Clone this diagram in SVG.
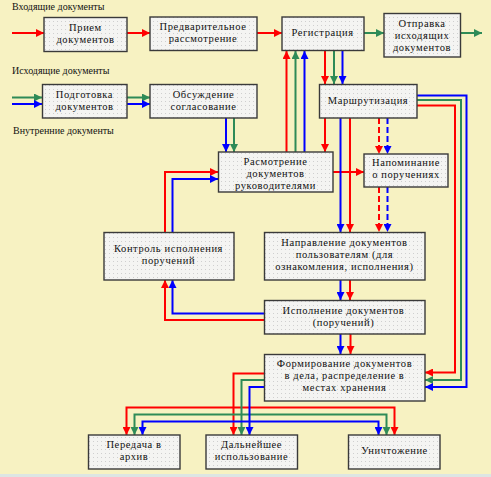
<svg xmlns="http://www.w3.org/2000/svg" width="491" height="477" viewBox="0 0 491 477">
<defs>
<pattern id="dots" width="4" height="4" patternUnits="userSpaceOnUse">
<rect width="4" height="4" fill="#f4f4f2"/>
<rect x="1" y="1" width="1" height="1" fill="#cfcfcf"/>
</pattern>
<marker id="ar" markerWidth="8" markerHeight="8" refX="8" refY="4" orient="auto" markerUnits="userSpaceOnUse"><path d="M0,0 L8,4 L0,8 z" fill="#ff0000"/></marker>
<marker id="ag" markerWidth="8" markerHeight="8" refX="8" refY="4" orient="auto" markerUnits="userSpaceOnUse"><path d="M0,0 L8,4 L0,8 z" fill="#2e8b57"/></marker>
<marker id="ab" markerWidth="8" markerHeight="8" refX="8" refY="4" orient="auto" markerUnits="userSpaceOnUse"><path d="M0,0 L8,4 L0,8 z" fill="#0000ff"/></marker>
</defs>
<style>
.box{fill:url(#dots);stroke:#3a3a3a;stroke-width:1.4}
.t{font-family:"Liberation Serif","Times New Roman",serif;font-size:10.5px;letter-spacing:0.6px;fill:#111;text-anchor:middle}
.s{font-family:"Liberation Serif","Times New Roman",serif;font-size:10px;fill:#111}
.c{fill:none;stroke-width:2}
.r{stroke:#ff0000;marker-end:url(#ar)}
.g{stroke:#2e8b57;marker-end:url(#ag)}
.b{stroke:#0000ff;marker-end:url(#ab)}
.d{stroke-dasharray:6 3}
</style>
<rect width="491" height="477" fill="#f7f2c2"/>
<rect y="474" width="491" height="3" fill="#dde6e3"/>
<text class="s" x="12" y="10">Входящие документы</text>
<text class="s" x="12" y="74">Исходящие документы</text>
<text class="s" x="13" y="134">Внутренние документы</text>
<g id="connectors" class="c">
<path class="r" d="M12,33 H44"/>
<path class="r" d="M127,33 H150"/>
<path class="r" d="M257,33 H282"/>
<path class="r" d="M286.5,152 V51"/>
<path class="r" d="M325,51 V84"/>
<path class="r" d="M325,118 V152"/>
<path class="r" d="M350,118 V232"/>
<path class="r" d="M333,172 H364"/>
<path class="r" d="M165,232 V172 H218"/>
<path class="r" d="M264,320 H165 V280"/>
<path class="r" d="M350,280 V300"/>
<path class="r" d="M350.5,334 V354"/>
<path class="r" d="M417,105.5 H455 V372.5 H425"/>
<path class="r" d="M264,373.5 H233.5 V435"/>
<path class="r" d="M233.5,407.5 H126.5 V435"/>
<path class="r" d="M233.5,407.5 H394.5 V435"/>
<path class="r d" d="M379,118 V154"/>
<path class="r d" d="M379,187 V232"/>
<path class="g" d="M364,33 H384"/>
<path class="g" d="M460,33 H482"/>
<path class="g" d="M12,97.5 H42"/>
<path class="g" d="M127,97.5 H150"/>
<path class="g" d="M234,118 V152"/>
<path class="g" d="M295.5,152 V51"/>
<path class="g" d="M334,51 V84"/>
<path class="g" d="M417,100 H461 V380 H425"/>
<path class="g" d="M264,380 H241.5 V435"/>
<path class="g" d="M241.5,414.5 H134.5 V435"/>
<path class="g" d="M241.5,414.5 H386.5 V435"/>
<path class="b" d="M12,104 H42"/>
<path class="b" d="M127,104 H150"/>
<path class="b" d="M226,118 V152"/>
<path class="b" d="M304.5,152 V51"/>
<path class="b" d="M342.5,51 V84"/>
<path class="b" d="M340.5,118 V232"/>
<path class="b" d="M172.5,232 V179 H218"/>
<path class="b" d="M264,313.5 H172.5 V280"/>
<path class="b" d="M340.5,280 V300"/>
<path class="b" d="M340.5,334 V354"/>
<path class="b" d="M417,95.5 H466.5 V387 H425"/>
<path class="b" d="M264,387 H249.5 V435"/>
<path class="b" d="M249.5,421.5 H142.5 V435"/>
<path class="b" d="M249.5,421.5 H378.5 V435"/>
<path class="b d" d="M387.5,118 V154"/>
<path class="b d" d="M387.5,187 V232"/>
</g>
<g id="priem"><rect class="box" x="44" y="17.5" width="83" height="34"/><text class="t" x="85.5" y="30.5">Прием</text><text class="t" x="85.5" y="42.5">документов</text></g>
<g id="predv"><rect class="box" x="150" y="17" width="107" height="33.5"/><text class="t" x="203" y="30">Предварительное</text><text class="t" x="203" y="42">рассмотрение</text></g>
<g id="registr"><rect class="box" x="282" y="17" width="82" height="33.5"/><text class="t" x="322.5" y="35.5">Регистрация</text></g>
<g id="otpravka"><rect class="box" x="384" y="13.5" width="76.5" height="43.5"/><text class="t" x="422" y="26.5">Отправка</text><text class="t" x="422" y="38.5">исходящих</text><text class="t" x="422" y="50.5">документов</text></g>
<g id="podgot"><rect class="box" x="42.5" y="84.5" width="84.5" height="33.5"/><text class="t" x="84.5" y="97.5">Подготовка</text><text class="t" x="84.5" y="109.5">документов</text></g>
<g id="obsuzh"><rect class="box" x="150" y="84.5" width="107" height="33.5"/><text class="t" x="203.5" y="97.5">Обсуждение</text><text class="t" x="203.5" y="109.5">согласование</text></g>
<g id="marshrut"><rect class="box" x="319.5" y="84.5" width="97.5" height="33.5"/><text class="t" x="368" y="103.5">Маршрутизация</text></g>
<g id="rassm"><rect class="box" x="218.5" y="152" width="114.5" height="40"/><text class="t" x="275.5" y="164.5">Расмотрение</text><text class="t" x="275.5" y="176.5">документов</text><text class="t" x="275.5" y="188.5">руководителями</text></g>
<g id="napomin"><rect class="box" x="364" y="154" width="84" height="33"/><text class="t" x="406" y="166">Напоминание</text><text class="t" x="406" y="178">о поручениях</text></g>
<g id="kontrol"><rect class="box" x="104" y="232.5" width="130" height="47.5"/><text class="t" x="168.5" y="251.5">Контроль исполнения</text><text class="t" x="168.5" y="263.5">поручений</text></g>
<g id="napravl"><rect class="box" x="264.5" y="232.5" width="160.5" height="47.5"/><text class="t" x="344.5" y="245.5">Направление документов</text><text class="t" x="344.5" y="257.5">пользователям (для</text><text class="t" x="344.5" y="269.5">ознакомления, исполнения)</text></g>
<g id="ispoln"><rect class="box" x="264.5" y="300.5" width="160.5" height="33.5"/><text class="t" x="343.5" y="313.5">Исполнение документов</text><text class="t" x="343.5" y="325.5">(поручений)</text></g>
<g id="formir"><rect class="box" x="264.5" y="354.5" width="160.5" height="46.5"/><text class="t" x="344.5" y="367">Формирование документов</text><text class="t" x="344.5" y="379">в дела, распределение в</text><text class="t" x="344.5" y="391">местах хранения</text></g>
<g id="arhiv"><rect class="box" x="88.5" y="435" width="91.5" height="34"/><text class="t" x="134" y="448">Передача в</text><text class="t" x="134" y="460">архив</text></g>
<g id="dalnei"><rect class="box" x="206" y="435" width="91.5" height="34"/><text class="t" x="251.5" y="448">Дальнейшее</text><text class="t" x="251.5" y="460">использование</text></g>
<g id="unichtozh"><rect class="box" x="348.5" y="435" width="91.5" height="34"/><text class="t" x="394.5" y="454">Уничтожение</text></g>
</svg>
